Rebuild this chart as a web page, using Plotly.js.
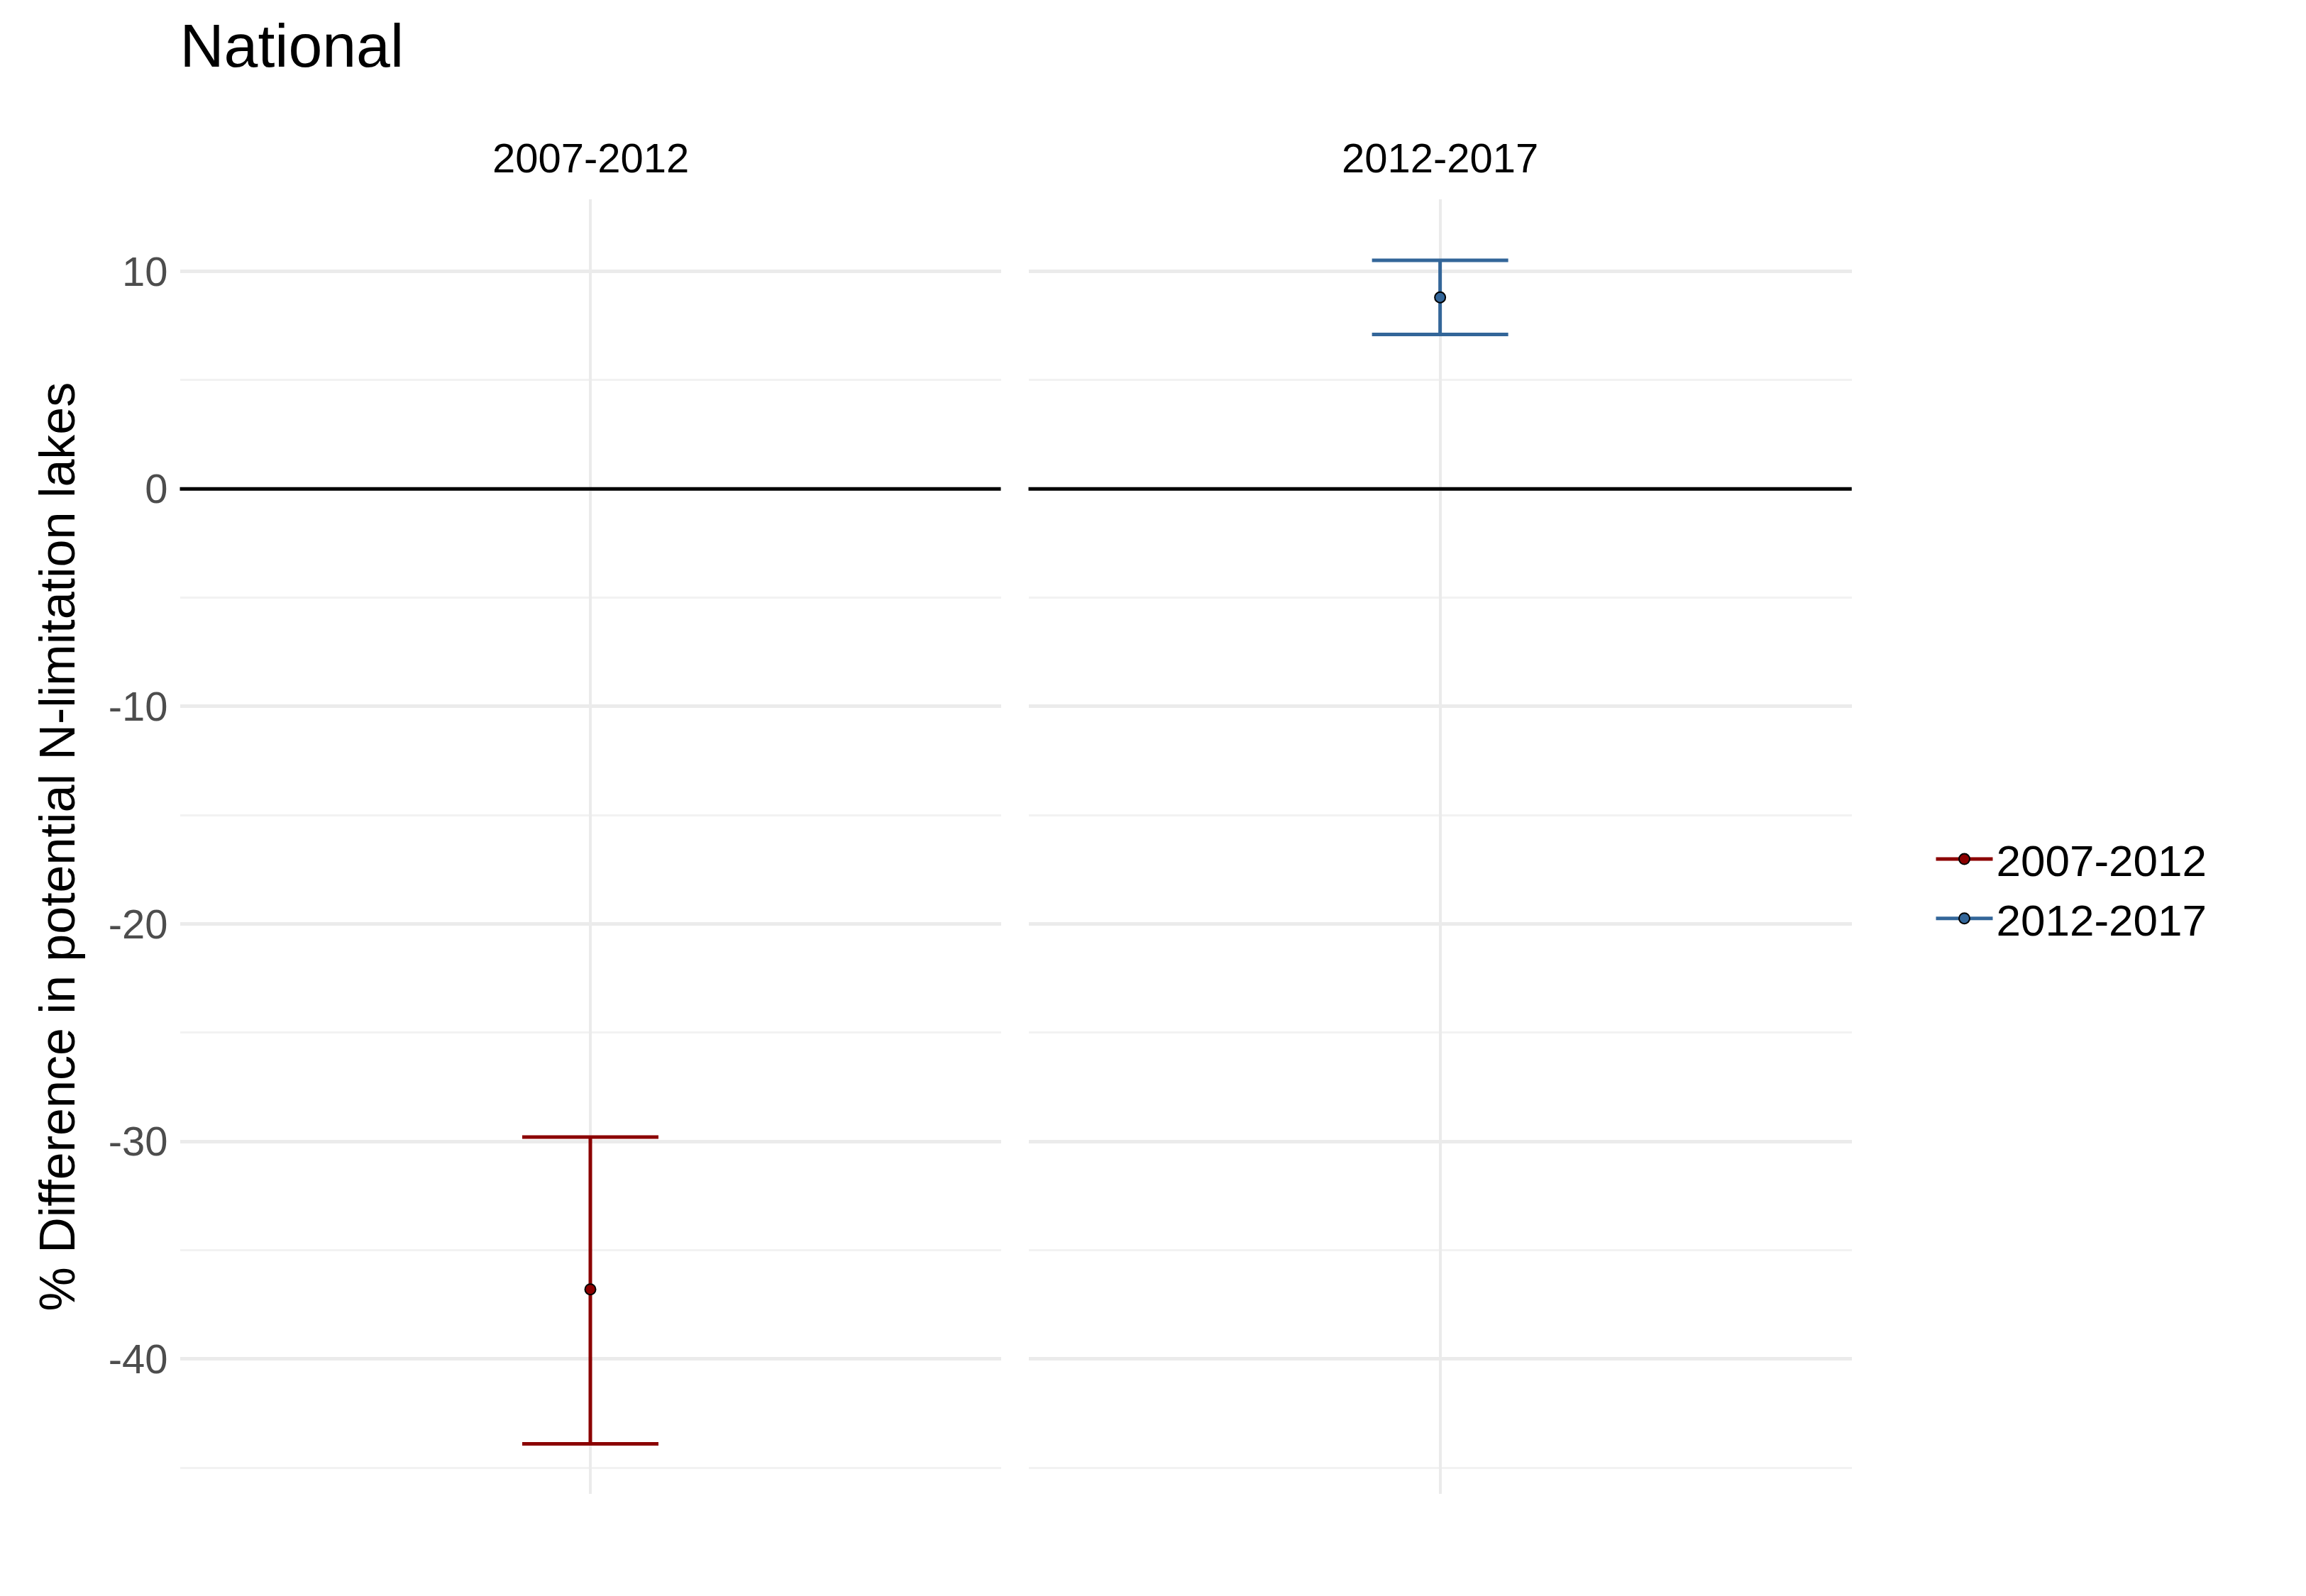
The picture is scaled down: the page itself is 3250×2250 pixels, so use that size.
<!DOCTYPE html>
<html>
<head>
<script src="https://cdn.plot.ly/plotly-3.0.1.min.js"></script>
<style>body{margin:0}</style>
</head>
<body>
<div id="chart" style="width:3250px;height:2250px"></div>
<script>
// data
const periods = ['2007-2012', '2012-2017'];
const estimates = [-36.8, 8.8];
const upper = [-29.8, 10.5];
const lower = [-43.9, 7.1];
const colors = ['#8B0000', '#336699'];

const data = periods.map((p, i) => ({
  x: [p],
  y: [estimates[i]],
  xaxis: i === 0 ? 'x' : 'x2',
  yaxis: 'y',
  name: p,
  type: 'scatter',
  mode: 'lines+markers',
  line: { color: colors[i], width: 5 },
  marker: { size: 15, color: colors[i], line: { color: '#000', width: 2 } },
  error_y: {
    type: 'data',
    symmetric: false,
    array: [upper[i] - estimates[i]],
    arrayminus: [estimates[i] - lower[i]],
    color: colors[i],
    thickness: 5,
    width: 96,
  },
}));

const xaxis_base = {
  type: 'category',
  showgrid: true,
  gridcolor: '#ebebeb',
  gridwidth: 4,
  showticklabels: false,
  zeroline: false,
  fixedrange: true,
};

const layout = {
  width: 3250,
  height: 2250,
  paper_bgcolor: '#fff',
  plot_bgcolor: '#fff',
  font: { family: 'Liberation Sans, Arial', color: '#000' },
  margin: { l: 0, r: 0, t: 0, b: 0 },
  title: { text: 'National', x: 0.078, xanchor: 'left', y: 0.985, yanchor: 'top', font: { size: 86 } },
  xaxis: Object.assign({}, xaxis_base, { domain: [0.078, 0.434] }),
  xaxis2: Object.assign({}, xaxis_base, { domain: [0.446, 0.803] }),
  yaxis: {
    domain: [0.064, 0.875],
    range: [-46.2, 13.3],
    tickvals: [-40, -30, -20, -10, 0, 10],
    ticktext: ['-40', '-30', '-20', '-10', '0', '10'],
    tickfont: { size: 58, color: '#4d4d4d' },
    ticklen: 0,
    ticklabelstandoff: 16,
    gridcolor: '#ebebeb',
    gridwidth: 5,
    minor: { dtick: 5, tick0: -45, showgrid: true, gridcolor: '#f2f2f2', gridwidth: 2.5 },
    zeroline: false,
    title: { text: '% Difference in potential N-limitation lakes', font: { size: 70 }, standoff: 24 },
    fixedrange: true,
  },
  shapes: [
    { type: 'line', xref: 'x domain', yref: 'y', x0: 0, x1: 1, y0: 0, y1: 0, line: { color: '#000', width: 5 } },
    { type: 'line', xref: 'x2 domain', yref: 'y', x0: 0, x1: 1, y0: 0, y1: 0, line: { color: '#000', width: 5 } },
  ],
  annotations: [
    { text: '2007-2012', xref: 'x domain', yref: 'paper', x: 0.5, y: 0.901, yanchor: 'middle', showarrow: false, font: { size: 58 } },
    { text: '2012-2017', xref: 'x2 domain', yref: 'paper', x: 0.5, y: 0.901, yanchor: 'middle', showarrow: false, font: { size: 58 } },
  ],
  showlegend: true,
  legend: { x: 0.838, y: 0.443, yanchor: 'middle', font: { size: 62 }, itemwidth: 80, tracegroupgap: 45 },
};

Plotly.newPlot('chart', data, layout, { displayModeBar: false });
</script>
</body>
</html>
